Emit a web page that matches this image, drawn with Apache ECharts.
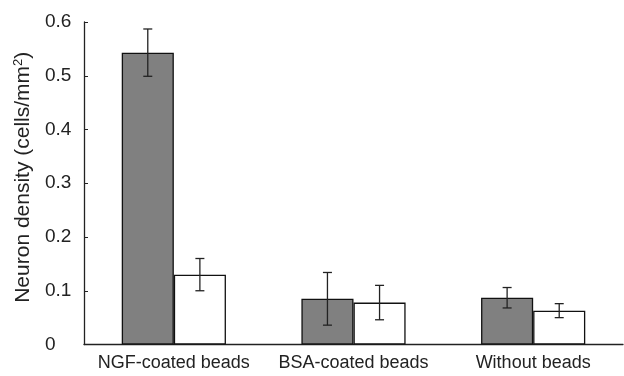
<!DOCTYPE html>
<html>
<head>
<meta charset="utf-8">
<script src="https://cdn.jsdelivr.net/npm/echarts@6/dist/echarts.min.js"></script>
<style>
  html, body { margin: 0; padding: 0; background: #fff; }
  #chart { width: 624px; height: 376px; }
</style>
</head>
<body>
<div id="chart"></div>
<script>
// data
const categories = ['NGF-coated beads', 'BSA-coated beads', 'Without beads']
const greyValues = [0.543, 0.085, 0.087]
const greyErrors = [0.044, 0.049, 0.019]
const whiteValues = [0.130, 0.078, 0.063]
const whiteErrors = [0.030, 0.032, 0.013]
const yTicks = [0, 0.1, 0.2, 0.3, 0.4, 0.5, 0.6]

const chart = echarts.init(document.getElementById('chart'))

// error bar drawn on top of one bar of a two-bar group
function errorSeries(values, errors, side) {
  return {
    type: 'custom',
    z: 10,
    data: values.map((v, i) => [i, v - errors[i], v + errors[i]]),
    renderItem(params, api) {
      const lo = api.coord([api.value(0), api.value(1)])
      const hi = api.coord([api.value(0), api.value(2)])
      const bandW = api.size([1, 0])[0]
      const barW = bandW * 0.29
      const x = lo[0] + side * barW / 2
      const cap = 4.5
      const style = { stroke: '#222', lineWidth: 1.3 }
      return {
        type: 'group',
        children: [
          { type: 'line', shape: { x1: x, y1: lo[1], x2: x, y2: hi[1] }, style },
          { type: 'line', shape: { x1: x - cap, y1: lo[1], x2: x + cap, y2: lo[1] }, style },
          { type: 'line', shape: { x1: x - cap, y1: hi[1], x2: x + cap, y2: hi[1] }, style }
        ]
      }
    }
  }
}

chart.setOption({
  animation: false,
  grid: { left: 84, right: 1, top: 22, bottom: 31.5, containLabel: false, outerBoundsMode: 'none' },
  xAxis: {
    type: 'category',
    data: categories,
    axisLine: { lineStyle: { color: '#222', width: 1.3 } },
    axisTick: { inside: true, length: 3, lineStyle: { color: '#222' } },
    axisLabel: { color: '#222', fontSize: 18, fontFamily: 'Liberation Sans', margin: 10, interval: 0, hideOverlap: false }
  },
  yAxis: {
    type: 'value',
    min: 0,
    max: 0.6,
    interval: 0.1,
    name: 'Neuron density (cells/mm{sup|2})',
    nameLocation: 'middle',
    nameGap: 50,
    nameTextStyle: {
      color: '#222', fontSize: 21, fontFamily: 'Liberation Sans',
      padding: [0, 0, 0, 12],
      rich: { sup: { fontSize: 13, verticalAlign: 'top', padding: [0, 0, 9, 0], color: '#222' } }
    },
    splitLine: { show: false },
    axisLine: { show: true, lineStyle: { color: '#222', width: 1.3 } },
    axisTick: { show: true, inside: true, length: 4, lineStyle: { color: '#222' } },
    axisLabel: {
      color: '#222', fontSize: 19, fontFamily: 'Liberation Sans',
      align: 'left', margin: 39,
      formatter: v => yTicks.includes(Math.round(v * 10) / 10) ? String(Math.round(v * 10) / 10) : ''
    }
  },
  series: [
    {
      type: 'bar',
      data: greyValues,
      barGap: '0%',
      barCategoryGap: '42%',
      itemStyle: { color: '#808080', borderColor: '#111', borderWidth: 1.3 }
    },
    {
      type: 'bar',
      data: whiteValues,
      itemStyle: { color: '#fff', borderColor: '#111', borderWidth: 1.3 }
    },
    errorSeries(greyValues, greyErrors, -1),
    errorSeries(whiteValues, whiteErrors, 1)
  ]
})
</script>
</body>
</html>
